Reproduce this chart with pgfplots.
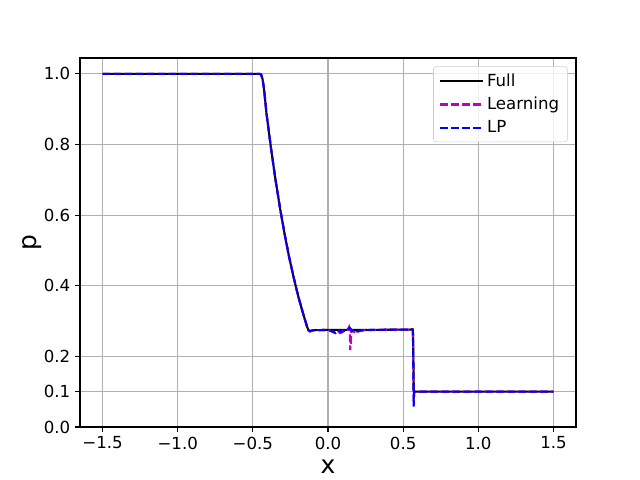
\documentclass[border=0pt]{standalone}
\usepackage{pgfplots}
\pgfplotsset{compat=1.18}
\usepackage{fontspec}
\setmainfont{DejaVu Sans}
\definecolor{mplm}{RGB}{191,0,191}
\definecolor{gridc}{RGB}{176,176,176}
\definecolor{legc}{RGB}{204,204,204}
\begin{document}
\begin{tikzpicture}
\begin{axis}[
 at={(0,0)}, anchor=south west,
 scale only axis, width=4.96in, height=3.69in,
 xmin=-1.65, xmax=1.65, ymin=0, ymax=1.045,
 xtick={-1.5,-1,-0.5,0,0.5,1,1.5},
 xticklabels={−1.5,−1.0,−0.5,0.0,0.5,1.0,1.5},
 ytick={0,0.1,0.2,0.4,0.6,0.8,1.0},
 yticklabels={0.0,0.1,0.2,0.4,0.6,0.8,1.0},
 ticklabel style={font=\fontsize{12}{14}\selectfont},
 grid=major, major grid style={gridc, line width=0.8pt},
 axis line style={line width=0.8pt},
 tick style={black, line width=0.8pt},
 tick align=outside, major tick length=3.5pt,
 tick pos=left,
 xlabel={x}, ylabel={p},
 ylabel shift=-5pt, xlabel shift=1pt,
 label style={font=\fontsize{18}{21}\selectfont},
 legend style={at={(1,1)}, anchor=north east, xshift=-6pt, yshift=-6pt,
   draw=legc, rounded corners=2pt, fill=white, fill opacity=0.8, text opacity=1,
   font=\fontsize{12}{14}\selectfont, row sep=2.5pt, inner xsep=4pt, inner ysep=3pt},
 legend cell align=left,
 legend image code/.code={\draw[#1] (0cm,0cm) -- (0.85cm,0cm); \path (0cm,0cm) -- (0.85cm+7pt,0cm);},
]
\addplot[black, line width=1.5pt] coordinates {
(-1.5,1.0) (-0.455,1.0) (-0.445,0.998) (-0.435,0.985) (-0.425,0.955)
(-0.4095,0.889) (-0.379,0.789) (-0.3485,0.698) (-0.318,0.617) (-0.2875,0.544)
(-0.257,0.478) (-0.2265,0.420) (-0.196,0.367) (-0.1655,0.321) (-0.14,0.285)
(-0.13,0.274) (-0.12,0.272) (-0.1,0.274) (0.0,0.275) (0.3,0.275) (0.55,0.276)
(0.56,0.277) (0.565,0.275) (0.568,0.2) (0.571,0.1) (1.5,0.1)
};
\addlegendentry{Full}
\addplot[mplm, line width=1.5pt, dash pattern=on 5.55pt off 2.4pt] coordinates {
(-1.5,1.0) (-0.455,1.0) (-0.445,0.998) (-0.435,0.985) (-0.425,0.955)
(-0.4095,0.889) (-0.379,0.789) (-0.3485,0.698) (-0.318,0.617) (-0.2875,0.544)
(-0.257,0.478) (-0.2265,0.420) (-0.196,0.367) (-0.1655,0.321) (-0.14,0.285)
(-0.13,0.273) (-0.12,0.270) (-0.1,0.274) (0.0,0.275) (0.02,0.272) (0.04,0.268)
(0.06,0.274) (0.08,0.266) (0.10,0.273) (0.13,0.275) (0.14,0.283) (0.145,0.27)
(0.148,0.218) (0.152,0.24) (0.155,0.275) (0.17,0.27) (0.19,0.266) (0.21,0.272)
(0.25,0.275) (0.55,0.276) (0.565,0.276) (0.568,0.15) (0.57,0.07) (0.573,0.1) (1.5,0.1)
};
\addlegendentry{Learning}
\addplot[blue, line width=1.5pt, dash pattern=on 5.55pt off 2.4pt] coordinates {
(-1.5,1.0) (-0.455,1.0) (-0.445,0.998) (-0.435,0.985) (-0.425,0.955)
(-0.4095,0.889) (-0.379,0.789) (-0.3485,0.698) (-0.318,0.617) (-0.2875,0.544)
(-0.257,0.478) (-0.2265,0.420) (-0.196,0.367) (-0.1655,0.321) (-0.14,0.285)
(-0.13,0.274) (-0.12,0.272) (-0.1,0.274) (0.0,0.275) (0.03,0.270) (0.05,0.266)
(0.07,0.274) (0.09,0.268) (0.12,0.275) (0.145,0.281) (0.16,0.272) (0.18,0.268)
(0.21,0.273) (0.3,0.275) (0.55,0.276) (0.565,0.276) (0.568,0.15) (0.57,0.058)
(0.573,0.1) (1.5,0.1)
};
\addlegendentry{LP}
\end{axis}
\path[use as bounding box] (-0.8in,-0.53in) rectangle (5.6in,4.27in);
\end{tikzpicture}
\end{document}
